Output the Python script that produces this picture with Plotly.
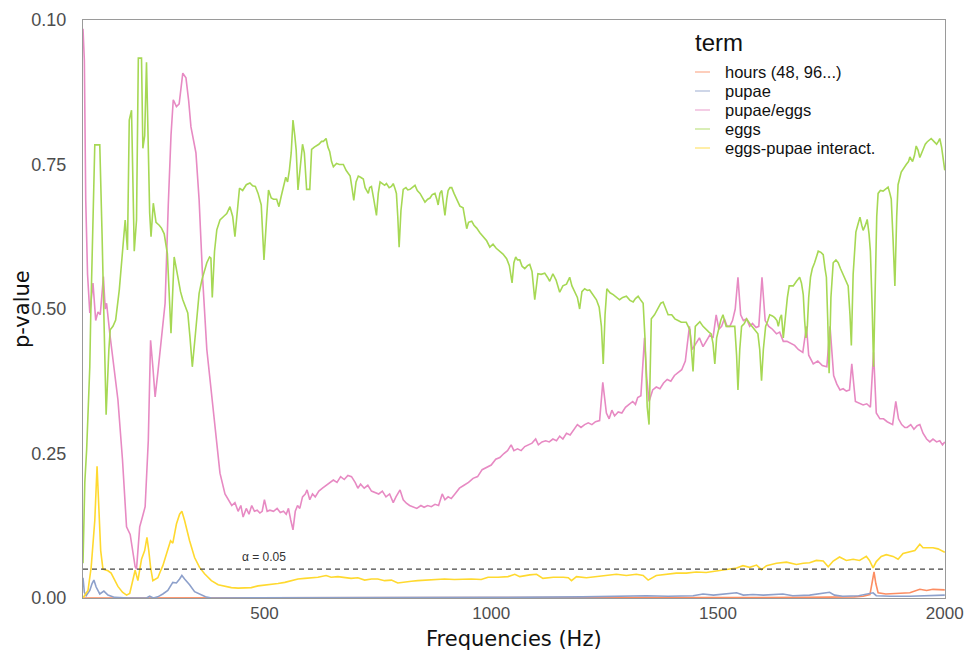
import plotly.graph_objects as go

# ---- p-values per model term across the frequency sweep (Hz) ----
hours_f = [100, 500, 1000, 1500, 1600, 1700, 1800, 1820, 1835, 1840, 1844, 1848, 1853,
           1870, 1890, 1923, 1945, 1960, 1974, 1990, 2000]
hours_p = [0.0, 0.0, 0.0, 0.001, 0.001, 0.001, 0.002, 0.003, 0.006, 0.025, 0.045, 0.025, 0.009,
           0.007, 0.008, 0.009, 0.015, 0.013, 0.015, 0.014, 0.014]

pupae_f = [100, 103, 107, 115, 120, 124, 129, 137, 146, 155, 170, 200, 240, 247, 255, 265,
           276, 287, 298, 306, 313, 318, 324, 335, 346, 357, 370, 383, 600, 800, 1000, 1200,
           1342, 1390, 1445, 1467, 1490, 1541, 1556, 1577, 1600, 1643, 1665, 1702, 1746, 1757,
           1775, 1810, 1842, 1849, 1880, 1923, 1960, 2000]
pupae_p = [0.035, 0.01, 0.004, 0.013, 0.025, 0.031, 0.019, 0.007, 0.012, 0.005, 0.001, 0.0, 0.0,
           0.003, 0.0, 0.002, 0.007, 0.013, 0.027, 0.026, 0.033, 0.039, 0.033, 0.023, 0.011, 0.007,
           0.002, 0.0, 0.0, 0.001, 0.001, 0.002, 0.004, 0.003, 0.004, 0.007, 0.005, 0.009, 0.005,
           0.006, 0.005, 0.007, 0.004, 0.005, 0.01, 0.005, 0.003, 0.004, 0.009, 0.004, 0.003,
           0.003, 0.004, 0.005]

ratio_f = [100, 103, 106, 110, 115, 122, 128, 133, 138, 145, 149, 152, 159, 168, 177, 187,
           196, 204, 210, 215, 218, 222, 225, 231, 237, 244, 249, 254, 259, 265, 270, 276, 281,
           288, 294, 299, 306, 312, 320, 327, 333, 338, 349, 356, 364, 373, 387, 394, 402, 413,
           420, 428, 435, 442, 448, 453, 460, 466, 472, 478, 484, 490, 495, 500, 506, 512, 520,
           528, 535, 542, 548, 553, 558, 563, 568, 573, 578, 584, 590, 594, 600, 606, 612, 620,
           628, 636, 644, 652, 660, 668, 676, 684, 692, 700, 706, 712, 720, 728, 736, 744, 752,
           760, 768, 776, 784, 790, 799, 806, 813, 820, 828, 836, 845, 852, 860, 868, 876, 884,
           892, 898, 905, 912, 920, 930, 940, 950, 960, 970, 980, 990, 1000, 1010, 1019, 1028,
           1036, 1044, 1050, 1058, 1066, 1074, 1082, 1090, 1098, 1104, 1112, 1120, 1128, 1136,
           1144, 1151, 1158, 1166, 1174, 1182, 1190, 1198, 1206, 1214, 1222, 1230, 1239, 1246,
           1250, 1254, 1260, 1266, 1272, 1280, 1288, 1296, 1304, 1312, 1318, 1323, 1330, 1338,
           1343, 1348, 1356, 1364, 1372, 1380, 1388, 1396, 1404, 1412, 1420, 1428, 1437, 1443,
           1451, 1459, 1467, 1475, 1482, 1489, 1496, 1502, 1508, 1514, 1520, 1526, 1532, 1538,
           1544, 1550, 1556, 1563, 1570, 1576, 1584, 1590, 1597, 1604, 1612, 1620, 1629, 1636,
           1644, 1652, 1660, 1669, 1677, 1687, 1695, 1700, 1710, 1720, 1730, 1740, 1747, 1755,
           1762, 1769, 1776, 1783, 1790, 1795, 1803, 1810, 1820, 1828, 1836, 1843, 1849, 1857,
           1865, 1873, 1880, 1885, 1892, 1898, 1905, 1912, 1917, 1925, 1932, 1939, 1945, 1952,
           1960, 1967, 1974, 1982, 1989, 1995, 2000]
ratio_p = [0.985, 0.93, 0.69, 0.56, 0.493, 0.545, 0.48, 0.495, 0.49, 0.556, 0.50, 0.51, 0.458,
           0.40, 0.343, 0.24, 0.123, 0.11, 0.08, 0.054, 0.05, 0.09, 0.123, 0.14, 0.158, 0.273,
           0.446, 0.40, 0.348, 0.39, 0.43, 0.48, 0.51, 0.68, 0.80, 0.862, 0.85, 0.855, 0.908,
           0.90, 0.86, 0.815, 0.77, 0.689, 0.55, 0.43, 0.325, 0.27, 0.216, 0.18, 0.17, 0.16,
           0.165, 0.15, 0.16, 0.14, 0.155, 0.145, 0.16, 0.15, 0.152, 0.147, 0.15, 0.17, 0.15,
           0.152, 0.15, 0.155, 0.148, 0.15, 0.145, 0.155, 0.135, 0.118, 0.15, 0.16, 0.155, 0.175,
           0.18, 0.187, 0.17, 0.18, 0.175, 0.185, 0.19, 0.195, 0.2, 0.204, 0.2, 0.21, 0.205,
           0.212, 0.21, 0.2, 0.19, 0.197, 0.19, 0.195, 0.185, 0.183, 0.18, 0.185, 0.175, 0.18,
           0.165, 0.175, 0.187, 0.17, 0.164, 0.16, 0.158, 0.155, 0.16, 0.157, 0.16, 0.158, 0.162,
           0.16, 0.18, 0.17, 0.175, 0.172, 0.18, 0.19, 0.195, 0.2, 0.207, 0.21, 0.222, 0.226,
           0.23, 0.24, 0.243, 0.25, 0.255, 0.265, 0.255, 0.258, 0.255, 0.262, 0.265, 0.268,
           0.275, 0.265, 0.27, 0.272, 0.27, 0.275, 0.272, 0.28, 0.275, 0.285, 0.282, 0.29, 0.3,
           0.295, 0.3, 0.303, 0.3, 0.305, 0.307, 0.373, 0.34, 0.32, 0.31, 0.325, 0.315, 0.322,
           0.32, 0.33, 0.335, 0.34, 0.335, 0.347, 0.35, 0.45, 0.38, 0.34, 0.36, 0.365, 0.362,
           0.372, 0.378, 0.375, 0.385, 0.39, 0.395, 0.41, 0.47, 0.43, 0.44, 0.45, 0.435, 0.445,
           0.455, 0.45, 0.49, 0.465, 0.47, 0.483, 0.47, 0.47, 0.48, 0.5, 0.555, 0.49, 0.48,
           0.483, 0.47, 0.475, 0.468, 0.47, 0.555, 0.48, 0.47, 0.465, 0.457, 0.46, 0.444, 0.444,
           0.44, 0.437, 0.43, 0.425, 0.47, 0.42, 0.405, 0.41, 0.402, 0.40, 0.47, 0.385, 0.37,
           0.36, 0.362, 0.358, 0.36, 0.405, 0.34, 0.338, 0.334, 0.336, 0.33, 0.425, 0.32, 0.31,
           0.31, 0.305, 0.302, 0.30, 0.34, 0.31, 0.30, 0.295, 0.295, 0.3, 0.292, 0.298, 0.30,
           0.285, 0.275, 0.27, 0.275, 0.27, 0.272, 0.265, 0.27]

eggs_f = [100, 104, 108, 112, 115, 117, 121, 124, 126, 132, 137, 142, 147, 151, 157, 160, 166,
          172, 180, 187, 193, 198, 202, 207, 213, 218, 222, 229, 232, 236, 240, 247, 250, 255,
          261, 268, 273, 279, 286, 294, 301, 309, 315, 320, 326, 331, 336, 341, 348, 356, 362,
          367, 373, 379, 382, 385, 390, 395, 402, 410, 417, 424, 430, 435, 445, 452, 460, 468,
          474, 480, 486, 493, 499, 505, 509, 515, 520, 527, 532, 537, 541, 547, 551, 555, 559,
          563, 567, 570, 574, 579, 584, 588, 593, 600, 604, 610, 615, 620, 626, 630, 636, 640,
          644, 648, 652, 656, 659, 665, 674, 680, 684, 689, 693, 697, 702, 707, 712, 718, 722,
          729, 732, 736, 741, 747, 751, 755, 760, 765, 769, 775, 780, 784, 788, 791, 794, 797,
          801, 806, 812, 816, 821, 826, 832, 837, 843, 848, 854, 860, 865, 870, 876, 880, 883,
          887, 891, 895, 898, 902, 905, 909, 913, 918, 924, 931, 938, 942, 946, 950, 957, 962,
          968, 975, 982, 990, 997, 1004, 1011, 1019, 1026, 1034, 1040, 1046, 1050, 1054, 1058,
          1063, 1068, 1074, 1080, 1085, 1090, 1096, 1103, 1110, 1118, 1124, 1129, 1136, 1143,
          1151, 1158, 1166, 1173, 1178, 1184, 1190, 1195, 1200, 1206, 1212, 1217, 1225, 1232,
          1238, 1243, 1247, 1251, 1255, 1262, 1269, 1276, 1283, 1290, 1298, 1306, 1313, 1318,
          1324, 1330, 1335, 1339, 1344, 1348, 1351, 1353, 1360, 1368, 1374, 1379, 1385, 1390,
          1398, 1405, 1412, 1419, 1425, 1430, 1438, 1445, 1450, 1456, 1460, 1467, 1474, 1480,
          1485, 1489, 1493, 1497, 1500, 1506, 1511, 1518, 1524, 1530, 1537, 1541, 1544, 1548,
          1552, 1558, 1563, 1570, 1575, 1581, 1588, 1592, 1596, 1600, 1605, 1610, 1614, 1620,
          1625, 1630, 1633, 1637, 1640, 1644, 1649, 1653, 1657, 1662, 1666, 1673, 1680, 1684,
          1688, 1691, 1694, 1697, 1700, 1704, 1708, 1713, 1717, 1721, 1727, 1732, 1736, 1739,
          1742, 1745, 1749, 1754, 1760, 1765, 1770, 1776, 1782, 1787, 1791, 1794, 1798, 1804,
          1808, 1813, 1817, 1820, 1825, 1829, 1833, 1836, 1840, 1843, 1847, 1850, 1853, 1858,
          1864, 1870, 1875, 1879, 1882, 1886, 1890, 1894, 1897, 1904, 1910, 1915, 1920, 1923,
          1929, 1933, 1937, 1941, 1945, 1949, 1952, 1957, 1961, 1966, 1970, 1976, 1982, 1986,
          1989, 1993, 1997, 2000]
eggs_p = [0.06, 0.2, 0.256, 0.33, 0.40, 0.486, 0.60, 0.70, 0.784, 0.784, 0.784, 0.63, 0.45,
          0.317, 0.429, 0.464, 0.47, 0.481, 0.533, 0.607, 0.654, 0.602, 0.827, 0.844, 0.60,
          0.654, 0.934, 0.934, 0.778, 0.80, 0.927, 0.666, 0.625, 0.683, 0.65, 0.645, 0.64, 0.63,
          0.596, 0.458, 0.59, 0.556, 0.53, 0.516, 0.505, 0.493, 0.45, 0.40, 0.458, 0.527, 0.55,
          0.562, 0.58, 0.59, 0.588, 0.52, 0.60, 0.637, 0.654, 0.66, 0.665, 0.677, 0.66, 0.625,
          0.709, 0.705, 0.715, 0.718, 0.713, 0.712, 0.70, 0.68, 0.585, 0.66, 0.706, 0.692, 0.69,
          0.69, 0.677, 0.695, 0.71, 0.728, 0.72, 0.74, 0.77, 0.827, 0.80, 0.775, 0.706, 0.75,
          0.785, 0.77, 0.707, 0.707, 0.776, 0.78, 0.782, 0.785, 0.79, 0.79, 0.795, 0.78, 0.772,
          0.755, 0.746, 0.75, 0.752, 0.75, 0.75, 0.74, 0.735, 0.73, 0.71, 0.688, 0.72, 0.73,
          0.728, 0.725, 0.71, 0.70, 0.71, 0.712, 0.69, 0.662, 0.70, 0.72, 0.717, 0.714, 0.717,
          0.71, 0.712, 0.717, 0.708, 0.70, 0.66, 0.607, 0.67, 0.707, 0.71, 0.706, 0.707, 0.71,
          0.714, 0.705, 0.70, 0.693, 0.685, 0.69, 0.692, 0.698, 0.70, 0.69, 0.68, 0.70, 0.705,
          0.68, 0.662, 0.69, 0.705, 0.71, 0.71, 0.70, 0.69, 0.678, 0.675, 0.66, 0.639, 0.65,
          0.652, 0.645, 0.64, 0.632, 0.625, 0.618, 0.607, 0.612, 0.605, 0.60, 0.595, 0.587,
          0.575, 0.545, 0.58, 0.59, 0.585, 0.585, 0.574, 0.57, 0.575, 0.577, 0.565, 0.516, 0.561,
          0.56, 0.562, 0.555, 0.548, 0.561, 0.55, 0.529, 0.54, 0.543, 0.555, 0.54, 0.53, 0.52,
          0.50, 0.53, 0.535, 0.532, 0.533, 0.525, 0.516, 0.503, 0.47, 0.405, 0.49, 0.535, 0.528,
          0.525, 0.52, 0.516, 0.52, 0.522, 0.515, 0.512, 0.518, 0.522, 0.515, 0.51, 0.45, 0.33,
          0.30, 0.42, 0.483, 0.49, 0.503, 0.51, 0.512, 0.50, 0.49, 0.49, 0.483, 0.48, 0.477,
          0.477, 0.477, 0.464, 0.392, 0.47, 0.475, 0.478, 0.47, 0.464, 0.46, 0.457, 0.44, 0.405,
          0.45, 0.46, 0.48, 0.49, 0.47, 0.47, 0.47, 0.47, 0.42, 0.36, 0.43, 0.47, 0.475, 0.483,
          0.475, 0.47, 0.464, 0.457, 0.43, 0.376, 0.43, 0.47, 0.48, 0.49, 0.488, 0.485, 0.48,
          0.47, 0.485, 0.49, 0.45, 0.495, 0.52, 0.54, 0.54, 0.54, 0.548, 0.555, 0.545, 0.525,
          0.48, 0.45, 0.47, 0.52, 0.555, 0.57, 0.58, 0.59, 0.60, 0.598, 0.594, 0.57, 0.555,
          0.48, 0.389, 0.52, 0.58, 0.585, 0.58, 0.57, 0.56, 0.55, 0.54, 0.49, 0.437, 0.56, 0.633,
          0.645, 0.659, 0.645, 0.636, 0.645, 0.655, 0.63, 0.60, 0.50, 0.40, 0.55, 0.66, 0.70,
          0.705, 0.704, 0.708, 0.711, 0.70, 0.69, 0.62, 0.54, 0.66, 0.715, 0.737, 0.745, 0.75,
          0.755, 0.763, 0.755, 0.765, 0.782, 0.775, 0.762, 0.77, 0.778, 0.785, 0.789, 0.792,
          0.795, 0.79, 0.785, 0.79, 0.795, 0.78, 0.76, 0.74]

inter_f = [100, 104, 111, 118, 122, 126, 131, 135, 139, 144, 150, 155, 162, 170, 177, 187, 196,
           203, 210, 215, 221, 229, 236, 241, 245, 249, 254, 260, 265, 270, 276, 284, 293, 298,
           306, 313, 318, 324, 330, 335, 346, 357, 368, 383, 398, 412, 427, 442, 456, 471, 486,
           500, 515, 530, 545, 559, 574, 589, 603, 618, 636, 647, 662, 677, 691, 706, 721, 736,
           750, 765, 780, 794, 809, 824, 838, 860, 883, 897, 919, 941, 956, 978, 993, 1015, 1037,
           1052, 1063, 1085, 1100, 1114, 1137, 1159, 1170, 1177, 1188, 1210, 1232, 1254, 1276,
           1298, 1320, 1335, 1346, 1364, 1386, 1408, 1430, 1452, 1474, 1497, 1519, 1541, 1555,
           1570, 1585, 1596, 1607, 1629, 1651, 1673, 1688, 1702, 1717, 1732, 1743, 1754, 1768,
           1783, 1798, 1812, 1827, 1834, 1842, 1849, 1860, 1871, 1886, 1897, 1908, 1923, 1934,
           1945, 1952, 1963, 1974, 1985, 1993, 2000]
inter_p = [0.0, 0.005, 0.013, 0.053, 0.09, 0.134, 0.228, 0.16, 0.082, 0.05, 0.048, 0.047, 0.043,
           0.03, 0.02, 0.01, 0.005, 0.008, 0.03, 0.048, 0.03, 0.067, 0.082, 0.105, 0.082, 0.053,
           0.03, 0.032, 0.035, 0.045, 0.056, 0.076, 0.099, 0.095, 0.128, 0.145, 0.15, 0.134,
           0.115, 0.099, 0.07, 0.053, 0.042, 0.03, 0.023, 0.02, 0.018, 0.017, 0.018, 0.018,
           0.021, 0.022, 0.023, 0.025, 0.027, 0.03, 0.033, 0.034, 0.035, 0.036, 0.039, 0.036,
           0.037, 0.036, 0.034, 0.035, 0.031, 0.033, 0.033, 0.03, 0.031, 0.026, 0.028, 0.029,
           0.03, 0.031, 0.032, 0.033, 0.032, 0.033, 0.033, 0.032, 0.036, 0.036, 0.037, 0.041,
           0.037, 0.04, 0.041, 0.034, 0.036, 0.036, 0.035, 0.03, 0.037, 0.035, 0.037, 0.039,
           0.041, 0.039, 0.041, 0.039, 0.031, 0.039, 0.041, 0.043, 0.043, 0.045, 0.044, 0.047,
           0.049, 0.052, 0.056, 0.053, 0.057, 0.049, 0.056, 0.06, 0.062, 0.058, 0.06, 0.061,
           0.065, 0.064, 0.054, 0.064, 0.071, 0.065, 0.067, 0.065, 0.072, 0.065, 0.052, 0.063,
           0.072, 0.075, 0.072, 0.067, 0.077, 0.08, 0.082, 0.093, 0.087, 0.087, 0.087, 0.085,
           0.082, 0.079]

term_names = ["hours (48, 96...)", "pupae", "pupae/eggs", "eggs", "eggs-pupae interact."]
term_colors = ["#fc8d62", "#8da0cb", "#e78ac3", "#a6d854", "#ffd92f"]
alpha_level = 0.05

y_tickvals = [0.0, 0.25, 0.5, 0.75, 1.0]
y_ticktext = ["0.00", "0.25", "0.50", "0.75", "0.10"]
x_tickvals = [500, 1000, 1500, 2000]

series = [(hours_f, hours_p), (pupae_f, pupae_p), (ratio_f, ratio_p),
          (eggs_f, eggs_p), (inter_f, inter_p)]

fig = go.Figure()
for (fx, py), name, col in zip(series, term_names, term_colors):
    fig.add_trace(go.Scatter(x=fx, y=py, mode="lines", name=name,
                             line=dict(color=col, width=1.6), showlegend=False))

# significance threshold
fig.add_hline(y=alpha_level, line=dict(color="#444444", width=1.3, dash="5px,4px"))
fig.add_annotation(x=500, y=alpha_level, xref="x", yref="y", text="α = 0.05",
                   showarrow=False, yshift=12,
                   font=dict(family="Liberation Sans", size=12, color="#333333"))

# plot area is 862 x 578 px, starting 83 px from the left and 20 px from the top
PW, PH = 862.0, 578.0

# axis titles
fig.add_annotation(x=0.5, y=(598 - 639) / PH, xref="paper", yref="paper",
                   text="Frequencies (Hz)", showarrow=False, xanchor="center", yanchor="middle",
                   font=dict(family="DejaVu Sans", size=21, color="#111111"))
fig.add_annotation(x=(22 - 83) / PW, y=0.5, xref="paper", yref="paper", text="p-value",
                   showarrow=False, textangle=-90, xanchor="center", yanchor="middle",
                   font=dict(family="DejaVu Sans", size=21, color="#111111"))

# legend block in the top-right corner
fig.add_annotation(x=(693 - 83) / PW, y=(598 - 42) / PH, xref="paper", yref="paper", text="term",
                   showarrow=False, xanchor="left", yanchor="middle",
                   font=dict(family="Liberation Sans", size=24, color="#111111"))
for i, (name, col) in enumerate(zip(term_names, term_colors)):
    yy = (598 - (72 + 19 * i)) / PH
    fig.add_shape(type="line", xref="paper", yref="paper",
                  x0=(695 - 83) / PW, x1=(710 - 83) / PW, y0=yy, y1=yy,
                  line=dict(color=col, width=1.4), opacity=0.6)
    fig.add_annotation(x=(723 - 83) / PW, y=yy, xref="paper", yref="paper", text=name,
                       showarrow=False, xanchor="left", yanchor="middle",
                       font=dict(family="Liberation Sans", size=16.5, color="#111111"))

fig.update_layout(
    width=965, height=652,
    margin=dict(l=83, r=20, t=20, b=54),
    paper_bgcolor="white", plot_bgcolor="white",
    showlegend=False,
    font=dict(family="Liberation Sans", size=18, color="#4d4d4d"),
)
fig.update_xaxes(range=[100, 2000.5], tickvals=x_tickvals, showgrid=False, zeroline=False,
                 showline=True, linecolor="#9a9a9a", linewidth=1, mirror=True,
                 ticks="", automargin=False,
                 tickfont=dict(family="Liberation Sans", size=17, color="#4d4d4d"))
fig.update_yaxes(range=[0, 1.0], tickvals=y_tickvals, ticktext=y_ticktext, showgrid=False,
                 zeroline=False, showline=True, linecolor="#9a9a9a", linewidth=1, mirror=True,
                 ticks="", ticklabelstandoff=12, automargin=False,
                 tickfont=dict(family="Liberation Sans", size=18, color="#4d4d4d"))

fig.write_html("out.html")
